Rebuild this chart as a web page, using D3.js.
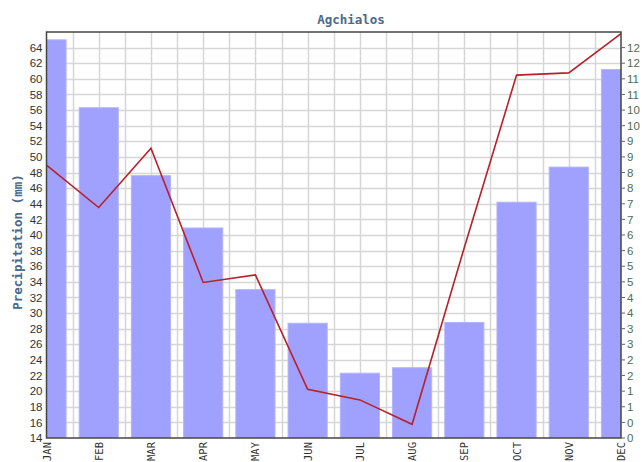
<!DOCTYPE html>
<html>
<head>
<meta charset="utf-8">
<script src="https://cdn.jsdelivr.net/npm/d3@7"></script>
<style>
  html, body { margin: 0; padding: 0; background: #fff; }
  svg { display: block; }
</style>
</head>
<body>
<div id="chart"></div>
<script>
// chart data
const months = ['JAN', 'FEB', 'MAR', 'APR', 'MAY', 'JUN', 'JUL', 'AUG', 'SEP', 'OCT', 'NOV', 'DEC'];
const precipitation = [65.0, 56.3, 47.6, 40.9, 33.0, 28.7, 22.3, 23.0, 28.8, 44.2, 48.7, 61.2];
const temperature = [8.74, 7.38, 9.28, 4.98, 5.22, 1.56, 1.22, 0.44, 6.1, 11.62, 11.69, 12.95];
const leftTicks = d3.range(14, 65, 2);
const rightTicks = d3.range(0, 12.51, 0.5);

const width = 642, height = 462;
const margin = { top: 32, right: 21, bottom: 24, left: 46.5 };

const svg = d3.select('#chart')
  .append('svg')
  .attr('width', width)
  .attr('height', height);

const x = d3.scaleLinear()
  .domain([0, months.length - 1])
  .range([margin.left, width - margin.right]);

const yLeft = d3.scaleLinear()
  .domain([14, 66])
  .range([height - margin.bottom, margin.top]);

const yRight = d3.scaleLinear()
  .domain([0, 13])
  .range([height - margin.bottom, margin.top]);

const step = x(1) - x(0);
const barWidth = step * 0.75;

// clip to plot area
svg.append('defs').append('clipPath')
  .attr('id', 'plot-clip')
  .append('rect')
  .attr('x', margin.left)
  .attr('y', margin.top)
  .attr('width', width - margin.right - margin.left)
  .attr('height', height - margin.bottom - margin.top);

// grid
const grid = svg.append('g').attr('class', 'grid');
grid.selectAll('line.h')
  .data(leftTicks.slice(1))
  .enter()
  .append('line')
  .attr('x1', margin.left)
  .attr('x2', width - margin.right)
  .attr('y1', d => Math.round(yLeft(d)) + 0.5)
  .attr('y2', d => Math.round(yLeft(d)) + 0.5)
  .attr('stroke', '#d6d6d6')
  .attr('stroke-width', 1.5);

grid.selectAll('line.v')
  .data(d3.range(0.5, months.length - 1, 0.5))
  .enter()
  .append('line')
  .attr('x1', d => Math.round(x(d)) + 0.5)
  .attr('x2', d => Math.round(x(d)) + 0.5)
  .attr('y1', margin.top)
  .attr('y2', height - margin.bottom)
  .attr('stroke', '#d6d6d6')
  .attr('stroke-width', 1.5);

// bars
svg.append('g')
  .attr('clip-path', 'url(#plot-clip)')
  .selectAll('rect')
  .data(precipitation)
  .enter()
  .append('rect')
  .attr('x', (d, i) => x(i) - barWidth / 2)
  .attr('y', d => yLeft(d))
  .attr('width', barWidth)
  .attr('height', d => yLeft(14) - yLeft(d))
  .attr('fill', '#a0a0ff')
  .attr('stroke', '#b4b4ff')
  .attr('stroke-width', 1);

// temperature line
const line = d3.line()
  .x((d, i) => x(i))
  .y(d => yRight(d));

svg.append('path')
  .datum(temperature)
  .attr('d', line)
  .attr('fill', 'none')
  .attr('stroke', '#b8202a')
  .attr('stroke-width', 1.6);

// frame
svg.append('rect')
  .attr('x', margin.left)
  .attr('y', margin.top)
  .attr('width', width - margin.right - margin.left)
  .attr('height', height - margin.bottom - margin.top)
  .attr('fill', 'none')
  .attr('stroke', '#444')
  .attr('stroke-width', 1.5);

// left axis labels
svg.append('g')
  .selectAll('text')
  .data(leftTicks)
  .enter()
  .append('text')
  .attr('x', margin.left - 4)
  .attr('y', d => yLeft(d))
  .attr('dy', '0.36em')
  .attr('text-anchor', 'end')
  .attr('font-family', 'Liberation Sans, Arial, sans-serif')
  .attr('font-size', '11.5px')
  .attr('fill', '#333')
  .text(d => d);

// right axis ticks + labels
const rightX = width - margin.right;
const rightAxis = svg.append('g');
rightAxis.selectAll('line')
  .data(rightTicks)
  .enter()
  .append('line')
  .attr('x1', rightX)
  .attr('x2', rightX + 4)
  .attr('y1', d => yRight(d))
  .attr('y2', d => yRight(d))
  .attr('stroke', '#666')
  .attr('stroke-width', 1);

rightAxis.selectAll('text')
  .data(rightTicks)
  .enter()
  .append('text')
  .attr('x', rightX + 6)
  .attr('y', d => yRight(d))
  .attr('dy', '0.36em')
  .attr('font-family', 'Liberation Sans, Arial, sans-serif')
  .attr('font-size', '11.5px')
  .attr('fill', '#4f6e4f')
  .text(d => Math.floor(d));

// x labels, rotated
svg.append('g')
  .selectAll('text')
  .data(months)
  .enter()
  .append('text')
  .attr('transform', (d, i) => `translate(${x(i) + 4},${height - margin.bottom + 4}) rotate(-90)`)
  .attr('text-anchor', 'end')
  .attr('font-family', 'DejaVu Sans Mono, monospace')
  .attr('font-size', '10.5px')
  .attr('fill', '#333')
  .text(d => d);

// title
svg.append('text')
  .attr('x', 351)
  .attr('y', 24)
  .attr('text-anchor', 'middle')
  .attr('font-family', 'DejaVu Sans Mono, monospace')
  .attr('font-weight', 'bold')
  .attr('font-size', '12.5px')
  .attr('fill', '#4a6a8c')
  .text('Agchialos');

// y axis title
svg.append('text')
  .attr('transform', 'translate(22,242) rotate(-90)')
  .attr('text-anchor', 'middle')
  .attr('font-family', 'DejaVu Sans Mono, monospace')
  .attr('font-weight', 'bold')
  .attr('font-size', '12.5px')
  .attr('fill', '#4a6a8c')
  .text('Precipitation (mm)');
</script>
</body>
</html>
